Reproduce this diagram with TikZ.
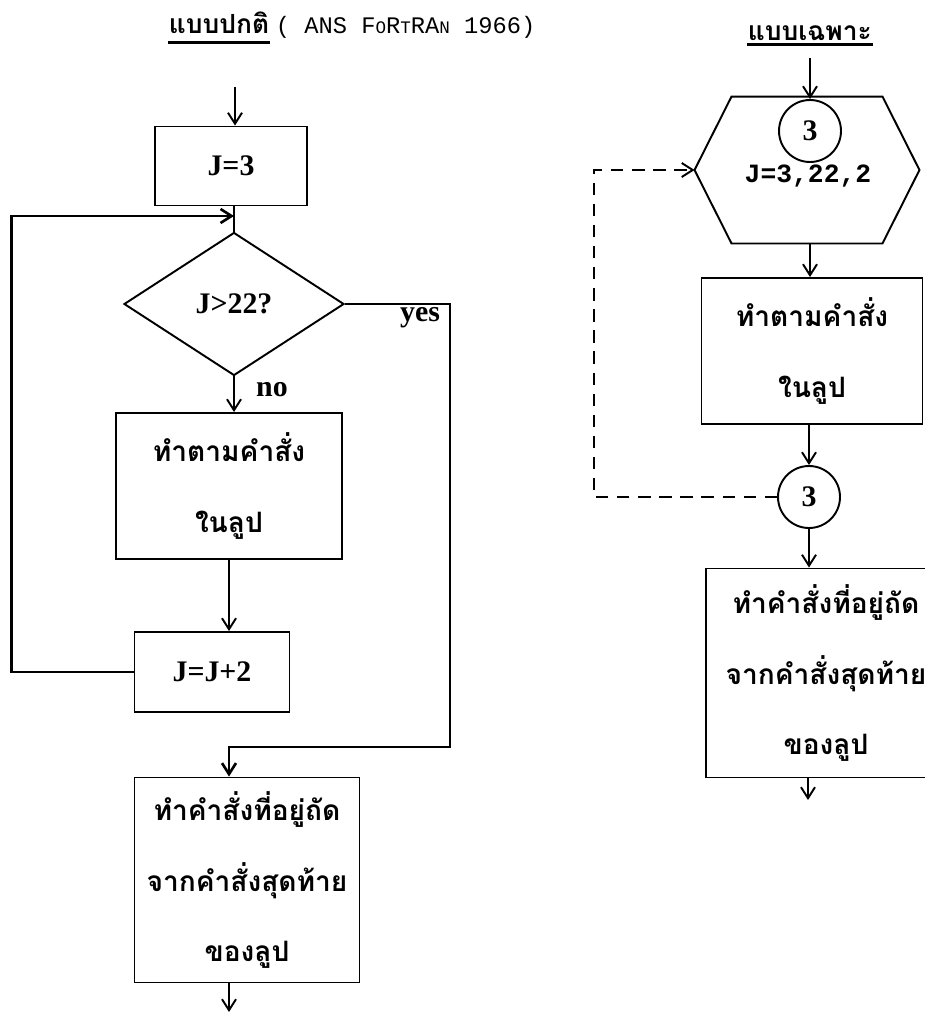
\documentclass[tikz,border=0pt]{standalone}
\usepackage{fontspec}
\setmainfont{Liberation Serif}
\newfontfamily\thaifont[Script=Thai]{Loma}
\newfontfamily\monofont{Liberation Mono}
\usetikzlibrary{arrows.meta,calc,shapes.geometric}

\newcommand\pxu{0.02cm}
\newcommand\sml[1]{{\fontsize{10}{12}\selectfont #1}}

\begin{document}
\begin{tikzpicture}[x={(0.02cm,0cm)},y={(0cm,-0.02cm)},line width=1.1pt,>={Straight Barb[length=2.2mm,width=2.8mm]},
  box/.style={draw,inner sep=0pt},
  lat/.style={font=\bfseries\fontsize{17}{20}\selectfont},
  thai/.style={font=\thaifont\bfseries\fontsize{16}{40}\selectfont,align=center},
  conn/.style={draw,circle,minimum size=62*\pxu,inner sep=0pt,lat},
  heading/.style={font=\thaifont\bfseries\fontsize{15}{18}\selectfont,anchor=base west,inner sep=0pt}]
  \useasboundingbox (0,0) rectangle (925,1021);
  % titles
  \node[heading] (ttlA) at (168,33) {แบบปกติ};
  \node[font=\monofont\fontsize{13.5}{16}\selectfont,anchor=base west,inner sep=0pt] (ttlB) at (275,33) {( ANS F\sml{O}R\sml{T}RA\sml{N} 1966)};
  \node[heading] (ttlC) at (747,40) {แบบเฉพาะ};
  \draw[line width=1.7pt] ([yshift=-5.5pt]ttlA.base west) -- ([yshift=-5.5pt]ttlA.base east);
  \draw[line width=1.7pt] ([yshift=-2.5pt]ttlC.base west) -- ([yshift=-2.5pt]ttlC.base east);
  % left: ordinary loop
  \coordinate (inA) at (235,87);
  \node[box,lat,minimum width=152*\pxu,minimum height=79*\pxu] (j3) at (231,166) {J=3};
  \node[draw,diamond,lat,inner sep=0pt,minimum width=220*\pxu,minimum height=143*\pxu] (dia) at (234,304) {J>22?};
  \node[box,thai,minimum width=226*\pxu,minimum height=146*\pxu] (bodyA) at (229,486) {ทำตามคำสั่ง\\ในลูป};
  \node[box,lat,minimum width=155*\pxu,minimum height=80*\pxu] (jinc) at (212,672) {J=J+2};
  \node[box,thai,minimum width=225*\pxu,minimum height=205*\pxu] (finA) at (247,880) {ทำคำสั่งที่อยู่ถัด\\จากคำสั่งสุดท้าย\\ของลูป};
  \coordinate (merge) at (234,216);
  \coordinate (yesBot) at (450,747);
  \coordinate (join) at (229,747);
  \coordinate (outA) at (229,1012);
  \node[lat] (no) at (272,390) {no};
  \node[lat] (yes) at (420,318) {yes};
  \draw[->] (inA) -- (inA |- j3.north);
  \draw (j3.south -| dia) -- (dia.north);
  \draw[->] (dia.south) -- (dia.south |- bodyA.north);
  \draw[->] (bodyA.south) -- (bodyA.south |- jinc.north);
  \draw[->,line width=1.5pt] (jinc.west) -- ++(-122,0) |- (merge);
  \draw[->,line width=1.5pt] (dia.east) -| (yesBot) -- (join) -- (join |- finA.north);
  \draw[->] (finA.south -| outA) -- (outA);
  % right: special form
  \coordinate (inB) at (810,58);
  \node[minimum width=223*\pxu,minimum height=145*\pxu] (hex) at (807,170) {};
  \draw (hex.west) -- ($(hex.north west)+(37,0)$) -- ($(hex.north east)+(-37,0)$) -- (hex.east)
    -- ($(hex.south east)+(-37,0)$) -- ($(hex.south west)+(37,0)$) -- cycle;
  \node[conn] (c3a) at (810,131) {3};
  \node[font=\monofont\bfseries\fontsize{15}{18}\selectfont] (loopB) at (808,176) {J=3,22,2};
  \node[box,thai,minimum width=221*\pxu,minimum height=146*\pxu] (bodyB) at (812,351) {ทำตามคำสั่ง\\ในลูป};
  \node[conn] (c3b) at (809,497) {3};
  \node[box,thai,minimum width=240*\pxu,minimum height=209*\pxu] (finB) at (826,673) {ทำคำสั่งที่อยู่ถัด\\จากคำสั่งสุดท้าย\\ของลูป};
  \coordinate (outB) at (808,800);
  \draw[->] (inB) -- (c3a.north);
  \draw[->] (hex.south -| c3a) -- (c3a |- bodyB.north);
  \draw[->] (bodyB.south -| c3b) -- (c3b.north);
  \draw[->] (c3b.south) -- (c3b.south |- finB.north);
  \draw[->] (finB.south -| outB) -- (outB);
  \draw[->,dash pattern=on 7pt off 5pt] (c3b.west) -- ++(-183,0) |- (hex.west);
\end{tikzpicture}
\end{document}
